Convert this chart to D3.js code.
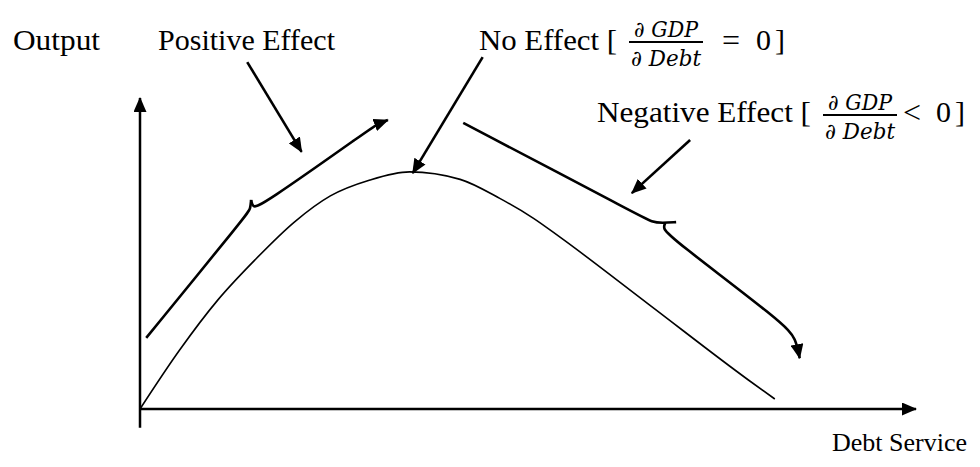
<!DOCTYPE html>
<html>
<head>
<meta charset="utf-8">
<script src="https://cdn.jsdelivr.net/npm/d3@7"></script>
<style>
  html, body { margin: 0; padding: 0; background: #fff; }
  svg { display: block; }
</style>
</head>
<body>
<svg id="chart" width="980" height="467"></svg>
<script>
// ---- Data (abstract units: x = debt service 0..100, y = output 0..100) ----
const curveX = [0, 5.1, 10.0, 14.8, 19.9, 24.5, 29.6, 34.7, 41.2, 46.3, 50.6, 54.1, 65.6, 78.3, 81.7];
const curveY = [0, 18.9, 34.9, 47.8, 60.0, 68.3, 73.4, 76.0, 73.6, 67.5, 61.2, 55.0, 33.3, 9.3, 3.2];

// Bracket "positive effect" (two halves meeting at the brace tip)
const posLowerX = [0.8, 13.8, 14.2, 14.3];
const posLowerY = [22.8, 62.5, 64.1, 67.0];
const posUpperX = [14.3, 14.5, 15.4, 29.6, 30.5, 31.9];
const posUpperY = [67.0, 64.7, 64.7, 89.7, 91.3, 92.6];

// Bracket "negative effect"
const negUpperX = [41.6, 64.4, 65.9, 67.2, 69.0];
const negUpperY = [91.7, 61.9, 59.9, 59.6, 59.9];
const negLowerX = [67.6, 67.3, 68.2, 83.0, 84.4, 84.9];
const negLowerY = [59.6, 58.0, 55.1, 27.2, 22.5, 16.3];

// Pointer arrows from labels
const pointerNames = ["Positive", "No", "Negative"];
const pointerFrom = [[13.8, 111.2], [44.1, 112.8], [70.8, 86.2]];
const pointerTo   = [[20.8, 82.4], [35.1, 75.6], [63.3, 69.2]];

const axisXLabel = "Debt Service";
const axisYLabel = "Output";
const labelPositive = "Positive Effect";
const labelNo = "No Effect [";
const labelNegative = "Negative Effect [";
const fracNum = "\u2202 GDP";
const fracDen = "\u2202 Debt";
const relNo = "=";
const relNeg = "<";
const zeroText = "0";
const closeText = "]";

// ---- Drawing ----
const svg = d3.select("#chart");
const x = d3.scaleLinear().domain([0, 100]).range([140, 917]);
const y = d3.scaleLinear().domain([0, 100]).range([409, 97]);

const defs = svg.append("defs");
defs.append("marker")
  .attr("id", "head")
  .attr("markerUnits", "userSpaceOnUse")
  .attr("viewBox", "0 0 15 13")
  .attr("markerWidth", 15).attr("markerHeight", 13)
  .attr("refX", 14).attr("refY", 6.5)
  .attr("orient", "auto")
  .append("path").attr("d", "M0,0 L15,6.5 L0,13 Z").attr("fill", "#000");

// Axes
svg.append("line")
  .attr("x1", x(0)).attr("y1", y(-6)).attr("x2", x(0)).attr("y2", y(100) + 1)
  .attr("stroke", "#000").attr("stroke-width", 2.5)
  .attr("marker-end", "url(#head)");
svg.append("line")
  .attr("x1", x(0)).attr("y1", y(0)).attr("x2", x(100) - 1).attr("y2", y(0))
  .attr("stroke", "#000").attr("stroke-width", 2.5)
  .attr("marker-end", "url(#head)");

// Main curve
const zip = (xs, ys) => xs.map((v, i) => [v, ys[i]]);
const smooth = d3.line().x(d => x(d[0])).y(d => y(d[1])).curve(d3.curveMonotoneX);
svg.append("path")
  .attr("d", smooth(zip(curveX, curveY)))
  .attr("fill", "none").attr("stroke", "#000").attr("stroke-width", 1.6);

// Brackets
const brace = d3.line().x(d => x(d[0])).y(d => y(d[1])).curve(d3.curveBasis);
[[posLowerX, posLowerY, false], [posUpperX, posUpperY, true],
 [negUpperX, negUpperY, false], [negLowerX, negLowerY, true]].forEach(([xs, ys, arrow]) => {
  const p = svg.append("path")
    .attr("d", brace(zip(xs, ys)))
    .attr("fill", "none").attr("stroke", "#000").attr("stroke-width", 2.6)
    .attr("stroke-linejoin", "round");
  if (arrow) p.attr("marker-end", "url(#head)");
});

// Pointer arrows
pointerNames.forEach((n, i) => {
  svg.append("line")
    .attr("x1", x(pointerFrom[i][0])).attr("y1", y(pointerFrom[i][1]))
    .attr("x2", x(pointerTo[i][0])).attr("y2", y(pointerTo[i][1]))
    .attr("stroke", "#000").attr("stroke-width", 2.6)
    .attr("marker-end", "url(#head)");
});

// Text
const serif = "'Liberation Serif', 'Times New Roman', serif";
const mathF = "'DejaVu Serif', serif";
function txt(s, px, py, size, len, fam, italic) {
  const t = svg.append("text").attr("x", px).attr("y", py)
    .attr("font-family", fam || serif).attr("font-size", size).attr("fill", "#000")
    .text(s);
  if (italic) t.attr("font-style", "italic");
  if (len) t.attr("textLength", len).attr("lengthAdjust", "spacingAndGlyphs");
  return t;
}
txt(axisYLabel, 13, 50, 30, 87);
txt(labelPositive, 158, 50, 30, 177);
txt(labelNo, 479, 50, 30, 138);
txt(labelNegative, 597, 122, 30, 214);
txt(axisXLabel, 832, 451, 26);

function frac(cx, barY) {
  svg.append("line").attr("x1", cx - 37).attr("x2", cx + 37)
    .attr("y1", barY).attr("y2", barY).attr("stroke", "#000").attr("stroke-width", 2.2);
  txt(fracNum, cx - 32, barY - 5, 22, 64, mathF, true);
  txt(fracDen, cx - 35, barY + 24, 22, 70, mathF, true);
}
frac(666, 42);
frac(860, 115);
txt(relNo, 722, 51, 32);
txt(zeroText, 756, 50, 30);
txt(closeText, 775, 50, 30);
txt(relNeg, 903, 123, 32);
txt(zeroText, 936, 122, 30);
txt(closeText, 955, 122, 30);
</script>
</body>
</html>
